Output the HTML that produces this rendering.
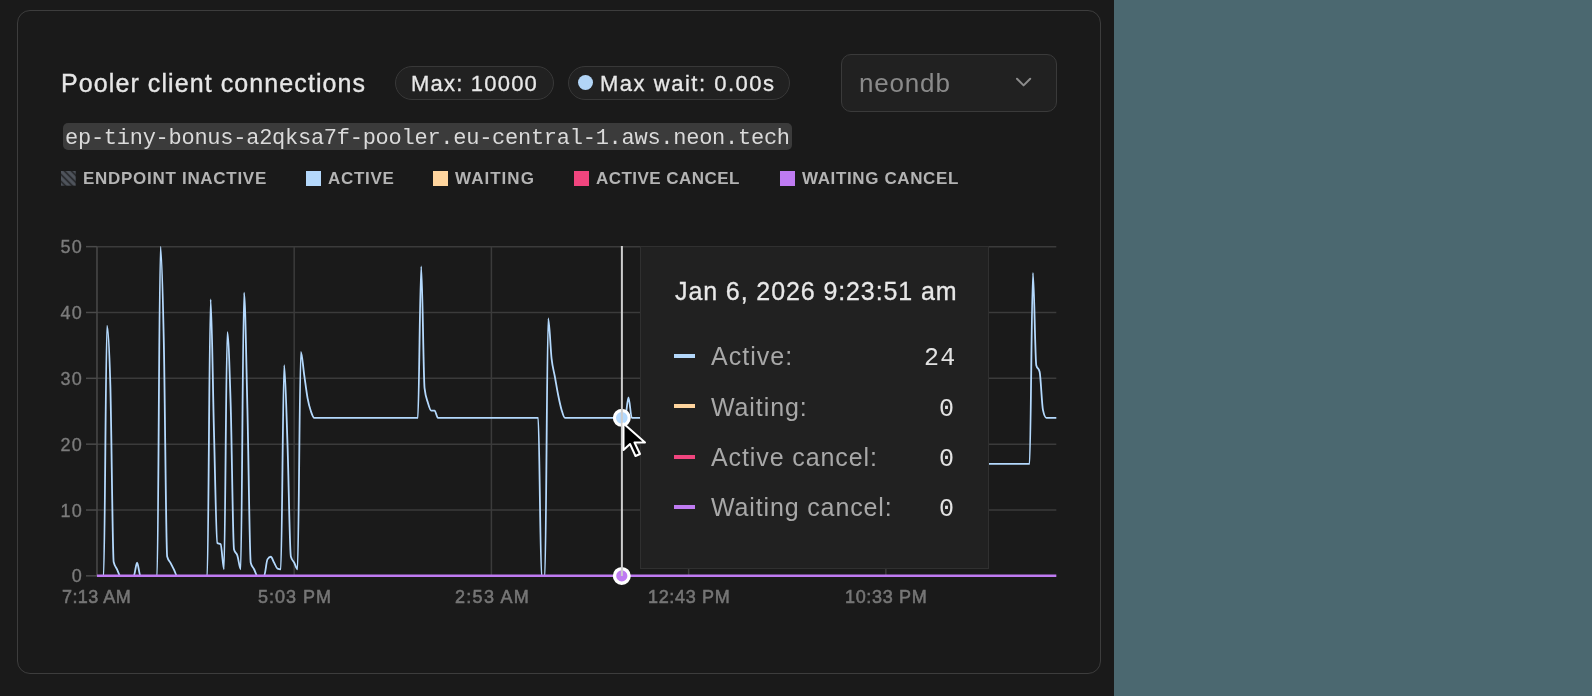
<!DOCTYPE html>
<html><head><meta charset="utf-8"><style>
*{box-sizing:border-box;margin:0;padding:0}
html,body{width:1592px;height:696px;overflow:hidden;background:#1a1a1a}
body{position:relative;font-family:"Liberation Sans",sans-serif}
.teal{position:absolute;left:1114px;top:0;width:478px;height:696px;background:#4b6870}
.card{position:absolute;left:17px;top:10px;width:1084px;height:664px;border:1px solid #3d3d3d;border-radius:13px;background:#1a1a1a}
.t{position:absolute;white-space:pre;line-height:1;will-change:transform}
.title{left:61px;top:71.2px;font-size:25px;letter-spacing:1.09px;color:#e6e6e6;-webkit-text-stroke:0.35px #e6e6e6}
.pill{position:absolute;top:66px;height:34px;border:1px solid #383838;border-radius:17px;background:#212121}
.ptxt{font-size:22px;top:73px;color:#e8e8e8;-webkit-text-stroke:0.3px #e8e8e8}
.sel{position:absolute;left:841px;top:54px;width:216px;height:58px;border:1px solid #3a3a3a;border-radius:10px;background:#212121}
.code{position:absolute;left:63px;top:123px;width:729px;height:26.5px;background:#3b3b3b;border-radius:5px}
.ctxt{left:65.3px;top:127.9px;font-family:"Liberation Mono",monospace;font-size:22px;letter-spacing:-0.26px;color:#dadada}
.leg{font-size:17px;font-weight:bold;top:169.8px;color:#b4b4b4}
.sw{position:absolute;top:171px;width:14.5px;height:14.5px}
.yl{position:absolute;left:0;width:82.9px;text-align:right;font-size:18px;line-height:1;color:#7c7c7c;letter-spacing:1.2px;will-change:transform;-webkit-text-stroke:0.35px #7c7c7c}
.xl{top:588px;font-size:18px;color:#767676;-webkit-text-stroke:0.55px #767676}
svg{position:absolute;left:0;top:0}
.tip{position:absolute;left:640px;top:246px;width:349px;height:323px;background:#212121;border:1px solid #303030}
.tt{left:674.5px;top:279px;font-size:25px;letter-spacing:0.9px;color:#e8e8e8;-webkit-text-stroke:0.3px #e8e8e8}
.tl{font-size:25px;color:#a8a8a8;left:710.6px}
.tv{font-family:"Liberation Mono",monospace;font-size:25px;color:#e2e2e2}
.dash{position:absolute;left:673.5px;width:21.5px;height:4px}
</style></head><body>
<div class="teal"></div>
<div class="card"></div>
<div class="t title">Pooler client connections</div>
<div class="pill" style="left:395px;width:159px"></div>
<div class="t ptxt" style="left:410.9px;letter-spacing:1.21px">Max: 10000</div>
<div class="pill" style="left:568px;width:222px"></div>
<div style="position:absolute;left:578px;top:75px;width:15px;height:15px;border-radius:50%;background:#b2d5f7"></div>
<div class="t ptxt" style="left:600px;letter-spacing:1.52px">Max wait: 0.00s</div>
<div class="sel"></div>
<div class="t" style="left:858.7px;top:69.8px;font-size:26px;letter-spacing:0.82px;color:#8a8a8a">neondb</div>
<svg width="1592" height="696"><polyline points="1017,78.8 1023.6,85.4 1030.2,78.8" fill="none" stroke="#8c8c8c" stroke-width="2" stroke-linecap="round" stroke-linejoin="round"/></svg>
<div class="code"></div>
<div class="t ctxt">ep-tiny-bonus-a2qksa7f-pooler.eu-central-1.aws.neon.tech</div>
<svg width="1592" height="696">
<defs><pattern id="stripe" patternUnits="userSpaceOnUse" x="0" y="0" width="4.9" height="4.9" patternTransform="translate(68.3,178.3) rotate(-45)"><rect width="4.9" height="4.9" fill="#1f2022"/><rect x="-1.65" width="3.3" height="4.9" fill="#50555d"/><rect x="3.25" width="3.3" height="4.9" fill="#50555d"/></pattern></defs>
<rect x="61" y="171" width="14.7" height="14.7" fill="url(#stripe)"/>
</svg>
<div class="t leg" style="left:82.7px;letter-spacing:0.71px">ENDPOINT INACTIVE</div>
<div class="sw" style="left:306px;background:#b4d8fb"></div>
<div class="t leg" style="left:327.9px;letter-spacing:0.68px">ACTIVE</div>
<div class="sw" style="left:433px;background:#ffd59e"></div>
<div class="t leg" style="left:455.4px;letter-spacing:1.03px">WAITING</div>
<div class="sw" style="left:574px;background:#f0457e"></div>
<div class="t leg" style="left:596px;letter-spacing:0.46px">ACTIVE CANCEL</div>
<div class="sw" style="left:780px;background:#bf7bf2"></div>
<div class="t leg" style="left:801.9px;letter-spacing:0.62px">WAITING CANCEL</div>
<div class="yl" style="top:567.4px">0</div><div class="yl" style="top:501.5px">10</div><div class="yl" style="top:435.7px">20</div><div class="yl" style="top:369.8px">30</div><div class="yl" style="top:304.0px">40</div><div class="yl" style="top:238.1px">50</div>
<div class="t xl" style="left:62.4px;letter-spacing:0.43px">7:13 AM</div><div class="t xl" style="left:257.5px;letter-spacing:1.0px">5:03 PM</div><div class="t xl" style="left:455.0px;letter-spacing:1.3px">2:53 AM</div><div class="t xl" style="left:647.5px;letter-spacing:0.66px">12:43 PM</div><div class="t xl" style="left:845.1px;letter-spacing:0.66px">10:33 PM</div>
<svg width="1592" height="696">
<g stroke="#3b3b3b" stroke-width="1.5" fill="none"><line x1="96.97" y1="575.85" x2="1056.3" y2="575.85"/><line x1="96.97" y1="510.01" x2="1056.3" y2="510.01"/><line x1="96.97" y1="444.17" x2="1056.3" y2="444.17"/><line x1="96.97" y1="378.33" x2="1056.3" y2="378.33"/><line x1="96.97" y1="312.49" x2="1056.3" y2="312.49"/><line x1="96.97" y1="246.65" x2="1056.3" y2="246.65"/><line x1="294.19" y1="246.65" x2="294.19" y2="575.85"/><line x1="491.41" y1="246.65" x2="491.41" y2="575.85"/><line x1="688.63" y1="246.65" x2="688.63" y2="575.85"/><line x1="885.85" y1="246.65" x2="885.85" y2="575.85"/></g>
<g stroke="#4a4a4a" stroke-width="1.5" fill="none"><line x1="86" y1="575.85" x2="96.97" y2="575.85"/><line x1="86" y1="510.01" x2="96.97" y2="510.01"/><line x1="86" y1="444.17" x2="96.97" y2="444.17"/><line x1="86" y1="378.33" x2="96.97" y2="378.33"/><line x1="86" y1="312.49" x2="96.97" y2="312.49"/><line x1="86" y1="246.65" x2="96.97" y2="246.65"/><line x1="96.97" y1="246.65" x2="96.97" y2="576.35"/></g>
<path d="M96.97,575.85L100.31,575.85L103.66,575.85C104.77,575.85,105.88,325.66,107.00,325.66C108.11,325.66,109.23,345.52,110.34,384.91C111.46,424.31,112.57,557.20,113.68,562.02C114.80,566.85,115.91,566.96,117.03,569.27C118.14,571.57,119.25,575.85,120.37,575.85L123.71,575.85L127.05,575.85L130.40,575.85L133.74,575.85C134.85,575.85,135.97,562.68,137.08,562.68C138.20,562.68,139.31,575.85,140.43,575.85L143.77,575.85L147.11,575.85L150.45,575.85L153.80,575.85L157.14,575.85C158.25,575.85,159.37,246.65,160.48,246.65C161.60,246.65,162.71,290.49,163.82,342.12C164.94,393.75,166.05,552.13,167.17,556.43C168.28,560.73,169.40,560.72,170.51,562.88C171.62,565.04,172.74,567.24,173.85,569.40C174.97,571.56,176.08,575.85,177.19,575.85L180.54,575.85L183.88,575.85L187.22,575.85L190.57,575.85L193.91,575.85L197.25,575.85L200.59,575.85L203.94,575.85L207.28,575.85C208.39,575.85,209.51,299.32,210.62,299.32C211.74,299.32,212.85,390.40,213.96,431.00C215.08,471.60,216.19,542.05,217.31,542.93C218.42,543.81,219.54,543.37,220.65,544.25C221.76,545.12,222.88,569.27,223.99,569.27C225.11,569.27,226.22,332.24,227.34,332.24C228.45,332.24,229.56,368.45,230.68,404.67C231.79,440.88,232.91,545.56,234.02,549.51C235.13,553.46,236.25,552.15,237.36,555.44C238.48,558.73,239.59,569.27,240.71,569.27C241.82,569.27,242.93,292.74,244.05,292.74C245.16,292.74,246.28,362.97,247.39,407.96C248.51,452.95,249.62,558.29,250.73,562.68C251.85,567.07,252.96,567.07,254.08,569.27C255.19,571.46,256.31,575.85,257.42,575.85L260.76,575.85L264.11,575.85C265.22,575.85,266.33,561.15,267.45,559.39C268.56,557.63,269.68,556.76,270.79,556.76C271.90,556.76,273.02,560.71,274.13,562.68C275.25,564.66,276.36,568.17,277.48,568.61C278.59,569.05,279.70,569.27,280.82,569.27C281.93,569.27,283.05,365.16,284.16,365.16C285.28,365.16,286.39,412.29,287.50,444.17C288.62,476.05,289.73,552.26,290.85,556.43C291.96,560.60,293.08,560.54,294.19,562.68C295.30,564.82,296.42,569.27,297.53,569.27C298.65,569.27,299.76,351.99,300.87,351.99C301.99,351.99,303.10,367.36,304.22,375.04C305.33,382.72,306.45,392.05,307.56,398.08C308.67,404.12,309.79,407.96,310.90,411.25C312.02,414.54,313.13,417.83,314.25,417.83L317.59,417.83L320.93,417.83L324.27,417.83L327.62,417.83L330.96,417.83L334.30,417.83L337.64,417.83L340.99,417.83L344.33,417.83L347.67,417.83L351.02,417.83L354.36,417.83L357.70,417.83L361.04,417.83L364.39,417.83L367.73,417.83L371.07,417.83L374.41,417.83L377.76,417.83L381.10,417.83L384.44,417.83L387.78,417.83L391.13,417.83L394.47,417.83L397.81,417.83L401.16,417.83L404.50,417.83L407.84,417.83L411.18,417.83L414.53,417.83L417.87,417.83C418.98,417.83,420.10,266.40,421.21,266.40C422.33,266.40,423.44,378.55,424.55,388.21C425.67,397.86,426.78,398.96,427.90,402.69C429.01,406.42,430.13,410.59,431.24,410.59L434.58,410.59C435.70,410.59,436.81,417.83,437.93,417.83L441.27,417.83L444.61,417.83L447.95,417.83L451.30,417.83L454.64,417.83L457.98,417.83L461.32,417.83L464.67,417.83L468.01,417.83L471.35,417.83L474.70,417.83L478.04,417.83L481.38,417.83L484.72,417.83L488.07,417.83L491.41,417.83L494.75,417.83L498.09,417.83L501.44,417.83L504.78,417.83L508.12,417.83L511.46,417.83L514.81,417.83L518.15,417.83L521.49,417.83L524.84,417.83L528.18,417.83L531.52,417.83L534.86,417.83L538.21,417.83C539.32,417.83,540.43,575.85,541.55,575.85L544.89,575.85C546.01,575.85,547.12,318.42,548.23,318.42C549.35,318.42,550.46,348.81,551.58,358.58C552.69,368.34,553.81,370.87,554.92,377.01C556.03,383.16,557.15,389.96,558.26,395.45C559.38,400.94,560.49,406.20,561.61,409.93C562.72,413.66,563.83,417.83,564.95,417.83L568.29,417.83L571.63,417.83L574.98,417.83L578.32,417.83L581.66,417.83L585.00,417.83L588.35,417.83L591.69,417.83L595.03,417.83L598.38,417.83L601.72,417.83L605.06,417.83L608.40,417.83L611.75,417.83L615.09,417.83L618.43,417.83L621.77,417.83L625.12,417.83C626.23,417.83,627.35,397.42,628.46,397.42C629.57,397.42,630.69,417.83,631.80,417.83L635.14,417.83L638.49,417.83L641.83,417.83L645.17,417.83L648.52,417.83L651.86,417.83L655.20,417.83L658.54,417.83L661.89,417.83L665.23,417.83L668.57,417.83L671.91,417.83L675.26,417.83L678.60,417.83L681.94,417.83L685.29,417.83L688.63,417.83L691.97,417.83L695.31,417.83L698.66,417.83L702.00,417.83L705.34,417.83L708.68,417.83L712.03,417.83L715.37,417.83L718.71,417.83L722.05,417.83L725.40,417.83L728.74,417.83L732.08,417.83L735.43,417.83L738.77,417.83L742.11,417.83L745.45,417.83L748.80,417.83L752.14,417.83L755.48,417.83L758.82,417.83L762.17,417.83C763.28,417.83,764.40,463.92,765.51,463.92L768.85,463.92L772.20,463.92L775.54,463.92L778.88,463.92L782.22,463.92L785.57,463.92L788.91,463.92L792.25,463.92L795.59,463.92L798.94,463.92L802.28,463.92L805.62,463.92L808.97,463.92L812.31,463.92L815.65,463.92L818.99,463.92L822.34,463.92L825.68,463.92L829.02,463.92L832.36,463.92L835.71,463.92L839.05,463.92L842.39,463.92L845.73,463.92L849.08,463.92L852.42,463.92L855.76,463.92L859.11,463.92L862.45,463.92L865.79,463.92L869.13,463.92L872.48,463.92L875.82,463.92L879.16,463.92L882.50,463.92L885.85,463.92L889.19,463.92L892.53,463.92L895.88,463.92L899.22,463.92L902.56,463.92L905.90,463.92L909.25,463.92L912.59,463.92L915.93,463.92L919.27,463.92L922.62,463.92L925.96,463.92L929.30,463.92L932.64,463.92L935.99,463.92L939.33,463.92L942.67,463.92L946.02,463.92L949.36,463.92L952.70,463.92L956.04,463.92L959.39,463.92L962.73,463.92L966.07,463.92L969.41,463.92L972.76,463.92L976.10,463.92L979.44,463.92L982.79,463.92L986.13,463.92L989.47,463.92L992.81,463.92L996.16,463.92L999.50,463.92L1002.84,463.92L1006.18,463.92L1009.53,463.92L1012.87,463.92L1016.21,463.92L1019.56,463.92L1022.90,463.92L1026.24,463.92L1029.58,463.92C1030.70,463.92,1031.81,272.99,1032.93,272.99C1034.04,272.99,1035.15,360.77,1036.27,365.16C1037.38,369.55,1038.50,367.36,1039.61,371.75C1040.73,376.14,1041.84,404.67,1042.95,409.93C1044.07,415.20,1045.18,417.83,1046.30,417.83L1049.64,417.83L1052.98,417.83L1056.32,417.83" fill="none" stroke="#b4d9fd" stroke-width="1.8"/>
<line x1="96.97" y1="575.85" x2="1056.3" y2="575.85" stroke="#bf7bf2" stroke-width="2.5"/>
</svg>
<div class="tip"></div>
<div class="t tt">Jan 6, 2026 9:23:51 am</div>
<div class="dash" style="top:353.5px;background:#b4d8fb"></div>
<div class="t tl" style="top:344.2px;letter-spacing:1.02px">Active:</div>
<div class="t tv" style="left:924px;top:346.2px;letter-spacing:1.3px">24</div>
<div class="dash" style="top:404px;background:#ffd59e"></div>
<div class="t tl" style="top:394.5px;letter-spacing:0.9px">Waiting:</div>
<div class="t tv" style="left:938.5px;top:396.5px">0</div>
<div class="dash" style="top:454.5px;background:#f0457e"></div>
<div class="t tl" style="top:444.8px;letter-spacing:0.9px">Active cancel:</div>
<div class="t tv" style="left:938.5px;top:446.8px">0</div>
<div class="dash" style="top:504.5px;background:#bf7bf2"></div>
<div class="t tl" style="top:495.1px;letter-spacing:0.86px">Waiting cancel:</div>
<div class="t tv" style="left:938.5px;top:497.1px">0</div>
<svg width="1592" height="696">
<circle cx="621.8" cy="417.8" r="7.4" fill="#b4d9fd" stroke="#fff" stroke-width="3.2"/>
<circle cx="621.8" cy="575.9" r="7.3" fill="#bf7bf2" stroke="#fff" stroke-width="3.4"/>
<line x1="621.9" y1="246" x2="621.9" y2="576" stroke="#cdcdcd" stroke-width="2"/>
<path d="M623.5,423.5 L623.5,450 L630,444 L635.5,456 L640,454 L634.5,442.5 L645,442.5 Z" fill="#000" stroke="#fff" stroke-width="2" stroke-linejoin="round"/>
</svg>
</body></html>
